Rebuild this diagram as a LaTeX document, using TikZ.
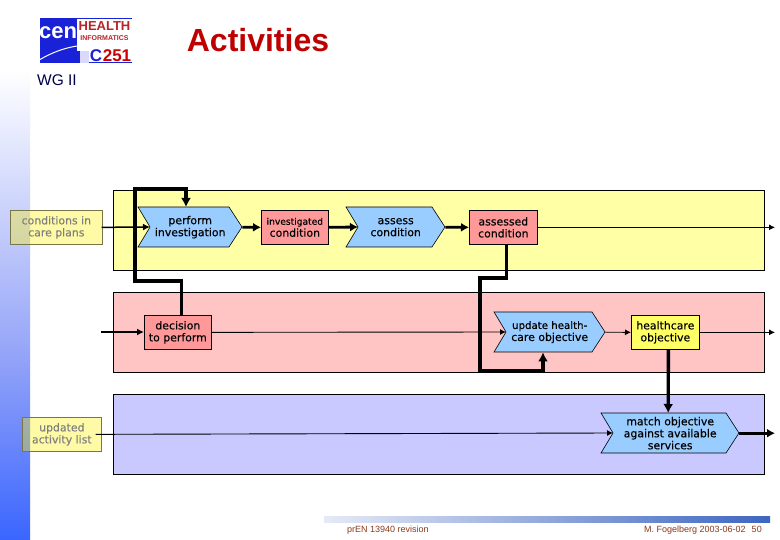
\documentclass[tikz,border=0pt]{standalone}
\usepackage{fontspec}
\setmainfont{DejaVu Sans}
\newfontfamily\arialf{Liberation Sans}
\newfontfamily\boxf[FakeBold=0.25]{DejaVu Sans}
\usetikzlibrary{arrows.meta,calc}
\definecolor{laneY}{HTML}{FFFFA6}
\definecolor{laneP}{HTML}{FFC4C4}
\definecolor{laneB}{HTML}{C9C9FF}
\definecolor{chev}{HTML}{99CCFF}
\definecolor{rbox}{HTML}{FF9999}
\definecolor{ybox}{HTML}{FFFF66}
\definecolor{foot}{HTML}{8A3A1A}
\definecolor{stripM}{HTML}{92A2F8}
\definecolor{stripB}{HTML}{3A66FF}
\definecolor{barL}{HTML}{E6EAF6}
\definecolor{barR}{HTML}{3D66C0}
\definecolor{logoBlue}{HTML}{1A22D8}
\definecolor{logoRed}{HTML}{B5262A}
\tikzset{
  x=1pt,y=-1pt,
  lane/.style={draw=black,line width=0.9pt},
  boxnode/.style={draw=black,line width=0.7pt,inner sep=0pt,align=center,font=\boxf\fontsize{10.9}{12}\selectfont,anchor=north west},
  chevtext/.style={inner sep=0pt,align=center,font=\boxf\fontsize{10.9}{12}\selectfont,anchor=north west},
  chevshape/.style={draw=black,line width=0.6pt,fill=chev},
  note/.style={boxnode,draw=black!60!yellow,fill=yellow,fill opacity=0.35,text opacity=1,text=black!50},
  thin link/.style={line width=0.9pt,-{Latex[length=6pt,width=6pt]}},
  mid link/.style={line width=1.5pt,-{Latex[length=7pt,width=7pt]}},
  fat link/.style={line width=2.8pt,-{Latex[length=8pt,width=9pt]}},
  heavy link/.style={line width=3.4pt,-{Latex[length=9pt,width=10pt]}},
  footer/.style={inner sep=0pt,text=foot,font=\arialf\fontsize{9}{11}\selectfont},
}
\newcommand{\chevron}[6]{% name,x1,x2,y1,y2,text
  \path[chevshape] (#2,#4) -- (#3-13,#4) -- (#3,#4/2+#5/2) -- (#3-13,#5) -- (#2,#5) -- (#2+12,#4/2+#5/2) -- cycle;
  \node[chevtext,minimum width=#3-#2,minimum height=#5-#4] (#1) at (#2,#4) {#6};
  \coordinate (#1n) at (#2+12,#4/2+#5/2);
}
\newcommand{\rbx}[7]{% name,x1,x2,y1,y2,style,text
  \node[boxnode,#6,minimum width=#3-#2,minimum height=#5-#4] (#1) at (#2,#4) {#7};
}
\begin{document}
\begin{tikzpicture}
\useasboundingbox (0,0) rectangle (780,540);
\fill[white] (0,0) rectangle (780,540);
% left strip
\shade[top color=white,bottom color=stripM] (0,70) rectangle (30,360.5);
\shade[top color=stripM,bottom color=stripB] (0,360) rectangle (30,540);
% bottom bar
\shade[left color=barL,right color=barR] (324,516) rectangle (770,522);
% logo
\fill[logoBlue] (40,18) rectangle (132,63);
\fill[white] (77,19) rectangle (132,51);
\fill[blue!15!white] (80,51) rectangle (89,63);
\fill[white] (89,51) rectangle (132,62);
\draw[white,line width=1pt] (36,62) .. controls (50,53) and (64,48) .. (77,46);
\node[inner sep=0pt,text=logoRed,font=\arialf\bfseries\fontsize{13}{13}\selectfont] (logoA) at (104.5,26) {HEALTH};
\node[inner sep=0pt,text=logoRed,font=\arialf\bfseries\fontsize{7}{7}\selectfont] (logoB) at (104.5,38) {INFORMATICS};
\node[inner sep=0pt,text=white,font=\arialf\bfseries\fontsize{22}{22}\selectfont] (logoC) at (58,33) {cen};
\node[inner sep=0pt,text=logoBlue,font=\arialf\bfseries\fontsize{17}{17}\selectfont] (logoD) at (96,56) {C};
\node[inner sep=0pt,text=red!80!black,font=\arialf\bfseries\fontsize{17}{17}\selectfont] (logoE) at (117,56) {251};
% title
\node[inner sep=0pt,text=red!75!black,font=\arialf\bfseries\fontsize{32}{36}\selectfont] (title) at (258,40) {Activities};
\node[inner sep=0pt,text=blue!30!black,font=\arialf\fontsize{15.5}{17}\selectfont,anchor=west] (wg) at (37,80) {WG II};
% footer
\node[footer,anchor=west] (fa) at (347,530.5) {prEN 13940 revision};
\node[footer,anchor=west] (fb) at (644,530.5) {M. Fogelberg 2003-06-02\hspace{6pt}50};
% lanes
\node[lane,fill=laneY,anchor=north west,inner sep=0pt,minimum width=651,minimum height=80] (laneA) at (113,190) {};
\node[lane,fill=laneP,anchor=north west,inner sep=0pt,minimum width=651,minimum height=80] (laneB) at (113,292) {};
\node[lane,fill=laneB,anchor=north west,inner sep=0pt,minimum width=651,minimum height=80] (laneC) at (113,394) {};
% free ends
\coordinate (outA) at (775,228);
\coordinate (outB) at (775,332);
\coordinate (outC) at (775,434.5);
\coordinate (inB) at (101,332);
\coordinate (bendA) at (135,281);
\coordinate (bendB) at (186,189);
\coordinate (bendC) at (480,278);
\coordinate (bendD) at (543,371);
% boxes
\chevron{perform}{138}{242}{207}{247}{perform\\investigation}
\chevron{assess}{346}{445}{207}{247}{assess\\condition}
\chevron{update}{494}{605}{312}{352}{\fontsize{10.2}{12}\selectfont update health-\\care objective}
\chevron{match}{601}{739}{413}{453}{match objective\\against available\\services}
\rbx{invest}{261}{328}{210}{244}{fill=rbox}{{\fontsize{9.1}{11}\selectfont investigated}\\condition}
\rbx{assessed}{469}{537}{210}{244}{fill=rbox}{assessed\\condition}
\rbx{decision}{144}{211}{315}{349}{fill=rbox}{decision\\to perform}
\rbx{hobj}{631}{699}{315}{349}{fill=ybox}{healthcare\\objective}
\rbx{cond}{10}{102}{210}{244}{note}{conditions in\\care plans}
\rbx{updlist}{22}{101}{417}{451}{note}{updated\\activity list}
% connectors
\draw[mid link] ([xshift=-1pt]cond.east) -- (performn);
\draw[fat link] (perform.east) -- (invest.west);
\draw[fat link] (invest.east) -- (assessn);
\draw[fat link] (assess.east) -- (assessed.west);
\draw[thin link] (assessed.east) -- (assessed.east -| outA);
\draw[mid link] (inB) -- (inB -| decision.west);
\draw[thin link] (decision.east) -- (updaten);
\draw[thin link] (update.east) -- (hobj.west);
\draw[thin link] (hobj.east) -- (hobj.east -| outB);
\draw[thin link] ([xshift=-6pt]updlist.east) -- (matchn);
\draw[fat link] (match.east) -- (match.east -| outC);
\draw[heavy link] ([xshift=3pt]hobj.south) -- ([xshift=-2pt]match.north);
\draw[heavy link] ([xshift=3pt]assessed.south) |- (bendC) |- (bendD) -- (bendD |- update.south);
\draw[heavy link] ([xshift=3.5pt]decision.north) |- (bendA) |- (bendB) -- (bendB |- perform.north);
\end{tikzpicture}
\end{document}
